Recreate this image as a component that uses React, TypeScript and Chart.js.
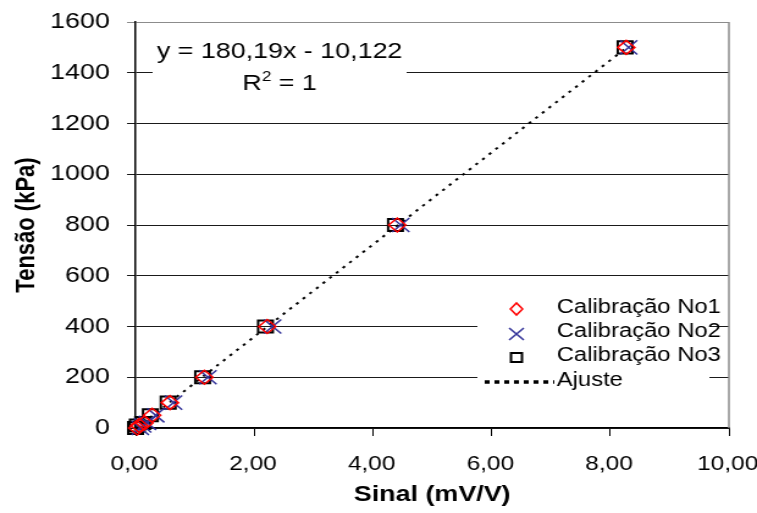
import React, { useEffect, useRef } from 'react';
import { Chart, registerables } from 'chart.js';

Chart.register(...registerables);

// ---- data ----
const tensao = [0, 10, 20, 50, 100, 200, 400, 800, 1500];
const sinalNo1 = [0.03, 0.06, 0.15, 0.28, 0.58, 1.16, 2.22, 4.41, 8.27];
const sinalNo2 = [0.08, 0.12, 0.2, 0.34, 0.64, 1.22, 2.31, 4.47, 8.31];
const sinalNo3 = [0.0, 0.03, 0.12, 0.25, 0.55, 1.13, 2.19, 4.38, 8.25];
const ajusteX = [0.02, 8.28];
const ajusteY = [0, 1500];
const xTicks = [0, 2, 4, 6, 8, 10];
const yTicks = [0, 200, 400, 600, 800, 1000, 1200, 1400, 1600];
const legendLabels = ['Calibração No1', 'Calibração No2', 'Calibração No3', 'Ajuste'];
const equationLine = 'y = 180,19x - 10,122';
const r2Parts = ['R', '2', ' = 1'];
const xTitle = 'Sinal (mV/V)';
const yTitle = 'Tensão (kPa)';

const FONT = "'Liberation Sans', Arial, sans-serif";
const CW = 620; // logical width that maps onto 757px
const EXTRA = 24; // extra room so the last tick label is not clipped
const CH = 513;
const SX = 757 / CW;

const pts = (xs: number[], ys: number[]) => xs.map((x, i) => ({ x, y: ys[i] }));

const overlayPlugin = {
  id: 'overlay',
  beforeDatasetsDraw(chart: any) {
    const ctx = chart.ctx;
    ctx.save();
    ctx.fillStyle = '#ffffff';
    ctx.fillRect(125, 30, 208, 78);
    ctx.fillRect(391, 290, 190, 105);
    ctx.restore();
  },
  afterDraw(chart: any) {
    const ctx = chart.ctx;
    const a = chart.chartArea;
    ctx.save();
    ctx.strokeStyle = '#8c8c8c';
    ctx.lineWidth = 1.5;
    ctx.beginPath();
    ctx.moveTo(a.right, a.top);
    ctx.lineTo(a.right, a.bottom);
    ctx.stroke();

    ctx.fillStyle = '#000';
    ctx.font = `22px ${FONT}`;
    ctx.textAlign = 'center';
    ctx.textBaseline = 'alphabetic';
    ctx.fillText(equationLine, 229, 58);
    ctx.textAlign = 'left';
    const wR = ctx.measureText(r2Parts[0]).width;
    const wE = ctx.measureText(r2Parts[2]).width;
    ctx.font = `14px ${FONT}`;
    const w2 = ctx.measureText(r2Parts[1]).width;
    const sx = 229 - (wR + w2 + wE) / 2;
    ctx.font = `22px ${FONT}`;
    ctx.fillText(r2Parts[0], sx, 90);
    ctx.font = `14px ${FONT}`;
    ctx.fillText(r2Parts[1], sx + wR, 81);
    ctx.font = `22px ${FONT}`;
    ctx.fillText(r2Parts[2], sx + wR + w2, 90);

    const mx = 423;
    const tx = 456;
    const ys = [308, 332, 356, 381];
    ctx.strokeStyle = '#ff0000';
    ctx.lineWidth = 1.5;
    ctx.beginPath();
    ctx.moveTo(mx - 5, ys[0] + 1);
    ctx.lineTo(mx, ys[0] - 5);
    ctx.lineTo(mx + 5, ys[0] + 1);
    ctx.lineTo(mx, ys[0] + 7);
    ctx.closePath();
    ctx.stroke();
    ctx.strokeStyle = '#333399';
    ctx.beginPath();
    ctx.moveTo(mx - 6, ys[1] - 4);
    ctx.lineTo(mx + 6, ys[1] + 8);
    ctx.moveTo(mx + 6, ys[1] - 4);
    ctx.lineTo(mx - 6, ys[1] + 8);
    ctx.stroke();
    ctx.strokeStyle = '#000';
    ctx.lineWidth = 2;
    ctx.strokeRect(mx - 4.5, ys[2] - 3, 9, 9);
    ctx.lineWidth = 3.5;
    ctx.setLineDash([4, 4]);
    ctx.beginPath();
    ctx.moveTo(397, ys[3] + 1);
    ctx.lineTo(454, ys[3] + 1);
    ctx.stroke();
    ctx.setLineDash([]);
    ctx.fillStyle = '#000';
    ctx.font = `19.5px ${FONT}`;
    ctx.textAlign = 'left';
    ctx.textBaseline = 'middle';
    legendLabels.forEach((l, i) => ctx.fillText(l, tx, ys[i]));
    ctx.restore();
  },
};

export default function App() {
  const ref = useRef<HTMLCanvasElement | null>(null);
  useEffect(() => {
    if (!ref.current) return;
    const chart = new Chart(ref.current, {
      type: 'scatter',
      data: {
        datasets: [
          {
            label: legendLabels[0],
            data: pts(sinalNo1, tensao),
            pointStyle: 'rectRot',
            radius: 7,
            borderColor: '#ff0000',
            backgroundColor: 'rgba(0,0,0,0)',
            borderWidth: 1.5,
            clip: false,
          } as any,
          {
            label: legendLabels[1],
            data: pts(sinalNo2, tensao),
            pointStyle: 'crossRot',
            radius: 10,
            borderColor: '#333399',
            backgroundColor: 'rgba(0,0,0,0)',
            borderWidth: 1.5,
            clip: false,
          },
          {
            label: legendLabels[2],
            data: pts(sinalNo3, tensao),
            pointStyle: 'rect',
            radius: 8.5,
            borderColor: '#000000',
            backgroundColor: 'rgba(0,0,0,0)',
            borderWidth: 2,
            clip: false,
          },
          {
            label: legendLabels[3],
            type: 'line',
            data: pts(ajusteX, ajusteY),
            showLine: true,
            borderColor: '#000000',
            borderWidth: 2,
            borderDash: [2.5, 5],
            pointRadius: 0,
            fill: false,
          } as any,
        ],
      },
      options: {
        animation: false,
        responsive: true,
        maintainAspectRatio: false,
        layout: { padding: { left: 0, right: 23 + EXTRA, top: 22, bottom: 0 } },
        plugins: { legend: { display: false }, tooltip: { enabled: false } },
        scales: {
          x: {
            type: 'linear',
            min: 0,
            max: 10,
            afterBuildTicks: (s: any) => {
              s.ticks = xTicks.map((v) => ({ value: v }));
            },
            afterFit: (s: any) => {
              s.height = 85;
              s.paddingLeft = 0;
              s.paddingRight = 0;
            },
            ticks: {
              callback: (v: any) => Number(v).toFixed(2).replace('.', ','),
              font: { family: FONT, size: 20 },
              color: '#000',
              padding: 16,
              labelOffset: -1,
              maxRotation: 0,
              autoSkip: false,
            },
            grid: { drawOnChartArea: false, drawTicks: true, tickLength: 8, color: '#000', lineWidth: 1 },
            border: { color: '#000', width: 1.2 },
            title: {
              display: true,
              text: xTitle,
              font: { family: FONT, size: 22, weight: 'bold' },
              color: '#000',
              padding: { top: 0, bottom: 5 },
            },
          },
          y: {
            type: 'linear',
            min: 0,
            max: 1600,
            afterBuildTicks: (s: any) => {
              s.ticks = yTicks.map((v) => ({ value: v }));
            },
            afterFit: (s: any) => {
              s.width = 111;
              s.paddingTop = 0;
              s.paddingBottom = 0;
            },
            ticks: {
              callback: (v: any) => String(v),
              font: { family: FONT, size: 22 },
              color: '#000',
              padding: 14,
              autoSkip: false,
            },
            grid: {
              tickLength: 7,
              color: (c: any) => (c.tick && c.tick.value === 1600 ? '#8c8c8c' : '#1a1a1a'),
              lineWidth: 1,
            },
            border: { color: '#000', width: 1.5 },
            title: {
              display: true,
              text: yTitle,
              font: { family: FONT, size: 22, weight: 'bold' },
              color: '#000',
              padding: { top: 9, bottom: 0 },
            },
          },
        },
      },
      plugins: [overlayPlugin],
    } as any);
    return () => chart.destroy();
  }, []);

  return (
    <div
      style={{
        position: 'absolute',
        left: 0,
        top: 0,
        width: 757,
        height: CH,
        overflow: 'hidden',
        background: '#fff',
      }}
    >
      <div
        style={{
          position: 'absolute',
          left: 0,
          top: 0,
          width: CW + EXTRA,
          height: CH,
          transform: `scaleX(${SX})`,
          transformOrigin: '0 0',
        }}
      >
        <canvas ref={ref} />
      </div>
    </div>
  );
}
